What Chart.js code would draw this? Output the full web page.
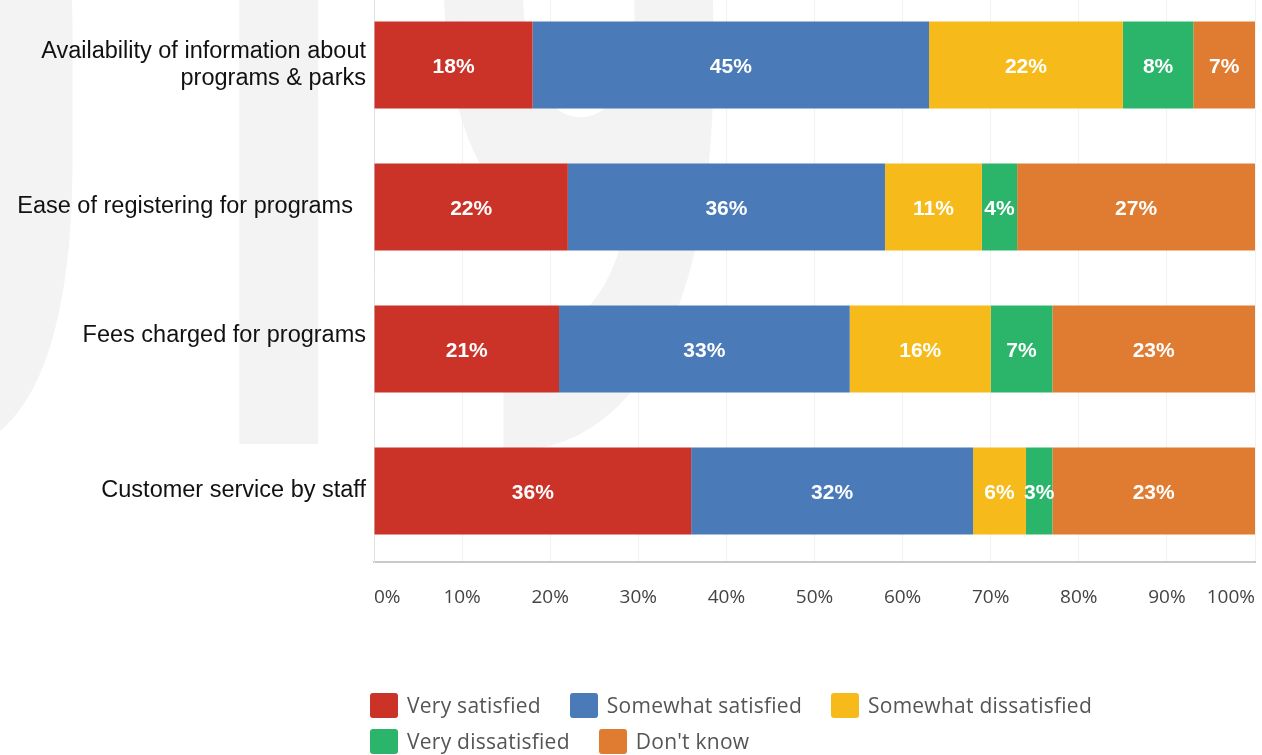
<!DOCTYPE html>
<html>
<head>
<meta charset="utf-8">
<script src="https://cdn.jsdelivr.net/npm/chart.js@4"></script>
<style>
  body { margin: 0; background: #fff; }
  #wrap { position: relative; width: 1262px; height: 755px; overflow: hidden; }
  #plot { position: absolute; left: 0; top: -6px; width: 1262px; height: 761px; }
  #legend {
    position: absolute; left: 370px; top: 687px; width: 760px;
    display: flex; flex-wrap: wrap;
    font-family: "Open Sans", sans-serif; font-size: 21px; color: #555;
    letter-spacing: 0.25px;
  }
  #legend .item { display: flex; align-items: center; height: 36px; margin-right: 29px; }
  #legend .box { width: 28px; height: 25px; border-radius: 3px; margin-right: 9px; }
</style>
</head>
<body>
<div id="wrap">
  <div id="plot"><canvas id="myChart"></canvas></div>
  <div id="legend"></div>
</div>
<script>
// extra spaces / blank line nudge two of the labels a little
const categories = [
    ['Availability of information about', 'programs & parks'],
    'Ease of registering for programs  ',
    ['Fees charged for programs', ''],
    'Customer service by staff'
];
const seriesNames = ['Very satisfied', 'Somewhat satisfied', 'Somewhat dissatisfied', 'Very dissatisfied', "Don't know"];
const verySatisfied = [18, 22, 21, 36];
const somewhatSatisfied = [45, 36, 33, 32];
const somewhatDissatisfied = [22, 11, 16, 6];
const veryDissatisfied = [8, 4, 7, 3];
const dontKnow = [7, 27, 23, 23];
const tickLabels = ['0%', '10%', '20%', '30%', '40%', '50%', '60%', '70%', '80%', '90%', '100%'];

const barColors = ['#cb3228', '#4a7bb8', '#f6bb1b', '#2ab56b', '#df7c32'];
const seriesValues = [verySatisfied, somewhatSatisfied, somewhatDissatisfied, veryDissatisfied, dontKnow];

// big faded year behind everything
const watermark = {
    id: 'watermark',
    beforeDraw(chart) {
        const ctx = chart.ctx;
        ctx.save();
        ctx.translate(742, 450);
        ctx.scale(0.575, 1);
        ctx.font = 'bold 975px Roboto';
        ctx.fillStyle = '#f3f3f3';
        ctx.textAlign = 'right';
        ctx.textBaseline = 'alphabetic';
        ctx.fillText('2019', 0, 0);
        ctx.restore();
    }
};

// percentage inside every segment
const segmentLabels = {
    id: 'segmentLabels',
    afterDatasetsDraw(chart) {
        const ctx = chart.ctx;
        ctx.save();
        ctx.font = 'bold 21px "Liberation Sans"';
        ctx.fillStyle = '#fff';
        ctx.textAlign = 'center';
        ctx.textBaseline = 'middle';
        chart.data.datasets.forEach((ds, i) => {
            chart.getDatasetMeta(i).data.forEach((bar, j) => {
                ctx.fillText(ds.data[j] + '%', (bar.x + bar.base) / 2, bar.y + 2);
            });
        });
        ctx.restore();
    }
};

// x tick labels, first and last kept inside the plot width
const xTickLabels = {
    id: 'xTickLabels',
    afterDraw(chart) {
        const ctx = chart.ctx;
        const xs = chart.scales.x;
        ctx.save();
        ctx.font = '19px "Open Sans"';
        ctx.fillStyle = '#444';
        ctx.textBaseline = 'middle';
        const last = xs.ticks.length - 1;
        xs.ticks.forEach((t, i) => {
            ctx.textAlign = i === 0 ? 'left' : (i === last ? 'right' : 'center');
            ctx.fillText(tickLabels[i], xs.getPixelForTick(i), xs.top + 36);
        });
        ctx.restore();
    }
};

const chart = new Chart('myChart', {
    type: 'bar',
    data: {
        labels: categories,
        datasets: seriesNames.map((name, i) => ({
            label: name,
            data: seriesValues[i],
            backgroundColor: barColors[i],
            borderWidth: 0,
            categoryPercentage: 1,
            barPercentage: 0.613
        }))
    },
    options: {
        indexAxis: 'y',
        responsive: true,
        maintainAspectRatio: false,
        animation: false,
        layout: { padding: { top: 0, right: 7, bottom: 143, left: 0 } },
        plugins: {
            legend: { display: false },
            tooltip: { enabled: false }
        },
        scales: {
            x: {
                stacked: true,
                min: 0,
                max: 100,
                ticks: { stepSize: 10, display: false },
                grid: { color: '#f2f2f2', drawTicks: false },
                border: { color: '#c9c9c9', width: 2 },
                afterFit(scale) { scale.height = 50; }
            },
            y: {
                stacked: true,
                grid: { display: false, drawTicks: false },
                border: { color: '#e2e2e2', width: 1 },
                ticks: {
                    color: '#111',
                    padding: 8,
                    font: { family: '"Liberation Sans"', size: 23.5, lineHeight: 1.12 }
                },
                afterFit(scale) {
                    scale.width = 374;
                    scale.paddingTop = 0;
                    scale.paddingBottom = 0;
                }
            }
        }
    },
    plugins: [watermark, segmentLabels, xTickLabels]
});

// html legend below the chart
const legendDiv = document.getElementById('legend');
chart.data.datasets.forEach(ds => {
    const item = document.createElement('div');
    item.className = 'item';
    const box = document.createElement('span');
    box.className = 'box';
    box.style.background = ds.backgroundColor;
    const text = document.createElement('span');
    text.textContent = ds.label;
    item.appendChild(box);
    item.appendChild(text);
    legendDiv.appendChild(item);
});
</script>
</body>
</html>
